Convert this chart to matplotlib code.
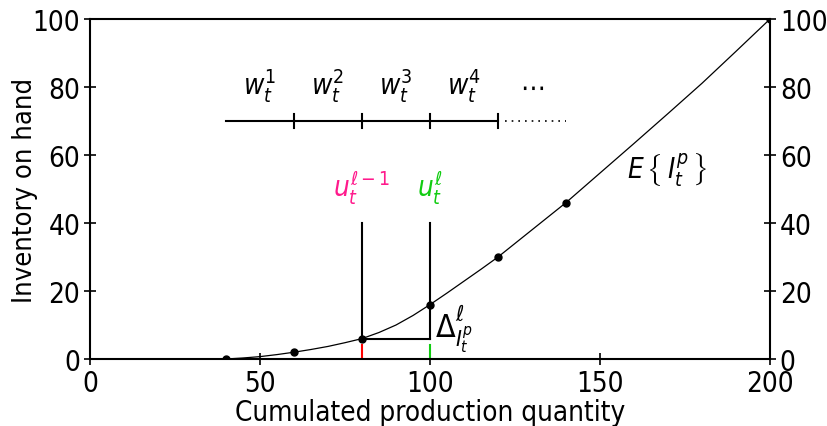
import matplotlib.pyplot as plt

plt.rcParams['font.family'] = ['DejaVu Sans']
plt.rcParams['font.stretch'] = 'condensed'
plt.rcParams['mathtext.fontset'] = 'custom'
plt.rcParams['mathtext.rm'] = 'DejaVu Sans:stretch=condensed'
plt.rcParams['mathtext.it'] = 'DejaVu Sans:italic:stretch=condensed'
plt.rcParams['mathtext.fallback'] = 'cm'

# Кумульована кількість та очікуваний запас (крива)
curve_x = [40, 45, 50, 55, 60, 65, 70, 75, 80, 85, 90, 95, 100, 105, 110, 115, 120,
           125, 130, 135, 140, 150, 160, 170, 180, 190, 200]
curve_y = [0, 0.3, 0.7, 1.3, 2, 2.8, 3.7, 4.8, 6, 7.8, 10, 12.8, 16, 19.4, 22.9, 26.4, 30,
           34, 38, 42, 46, 54.7, 63.4, 72.2, 81.1, 90.5, 100]

# Точки на кривій
pts_x = [40, 60, 80, 100, 120, 140, 200]
pts_y = [0, 2, 6, 16, 30, 46, 100]

# Шкала w
w_edges = [40, 60, 80, 100, 120]
w_labels = [r'$w_t^1$', r'$w_t^2$', r'$w_t^3$', r'$w_t^4$']
w_level = 70

u_prev, u_curr = 80, 100
u_top = 40
pink = '#ff1a8c'
green = '#11cc11'

fig = plt.figure(figsize=(8.28, 4.27), dpi=100)
ax = fig.add_axes([0.1087, 0.1569, 0.8213, 0.7963])

ax.plot(curve_x, curve_y, color='black', lw=0.9)
ax.plot(pts_x, pts_y, 'o', color='black', ms=5)

# шкала w
ax.plot([w_edges[0], w_edges[-1]], [w_level, w_level], color='black', lw=1.5)
ax.plot([w_edges[-1] + 2, 140], [w_level, w_level], color='black', lw=1.2, ls=(0, (1, 3)))
for e in w_edges[1:]:
    ax.plot([e, e], [w_level - 2, w_level + 2], color='black', lw=1.5)
for i, lab in enumerate(w_labels):
    ax.text((w_edges[i] + w_edges[i + 1]) / 2, w_level + 5, lab, ha='center', va='bottom', fontsize=20)
ax.text(130, w_level + 6, r'$\cdots$', ha='center', va='bottom', fontsize=20)

# вертикальні лінії u
ax.plot([u_prev, u_prev], [pts_y[2], u_top], color='black', lw=1.5)
ax.plot([u_curr, u_curr], [pts_y[2], u_top], color='black', lw=1.5)
ax.plot([u_prev, u_curr], [pts_y[2], pts_y[2]], color='black', lw=1.5)
ax.plot([u_prev, u_prev], [0, 4], color='red', lw=1.5)
ax.plot([u_curr, u_curr], [0, 4], color=green, lw=1.5)
ax.text(u_prev, 45, r'$u_t^{\ell-1}$', color=pink, ha='center', va='bottom', fontsize=20)
ax.text(u_curr, 45, r'$u_t^{\ell}$', color=green, ha='center', va='bottom', fontsize=20)
ax.text(101.5, 9, r'$\Delta^{\ell}_{I_t^p}$', ha='left', va='center', fontsize=23)
ax.text(158, 56, r'$E\,\left\{\,I_t^p\,\right\}$', ha='left', va='center', fontsize=20)

ax.set_xlim(0, 200)
ax.set_ylim(0, 100)
ax.set_xticks([0, 50, 100, 150, 200])
ax.set_yticks([0, 20, 40, 60, 80, 100])
ax.tick_params(direction='inout', length=8, width=1.2, labelsize=20, pad=3,
               right=True, labelright=True)
for s in ax.spines.values():
    s.set_linewidth(1.5)
ax.set_xlabel('Cumulated production quantity', fontsize=20, labelpad=1)
ax.set_ylabel('Inventory on hand', fontsize=19.5, labelpad=-4)

fig.savefig('out.png', dpi=100)
